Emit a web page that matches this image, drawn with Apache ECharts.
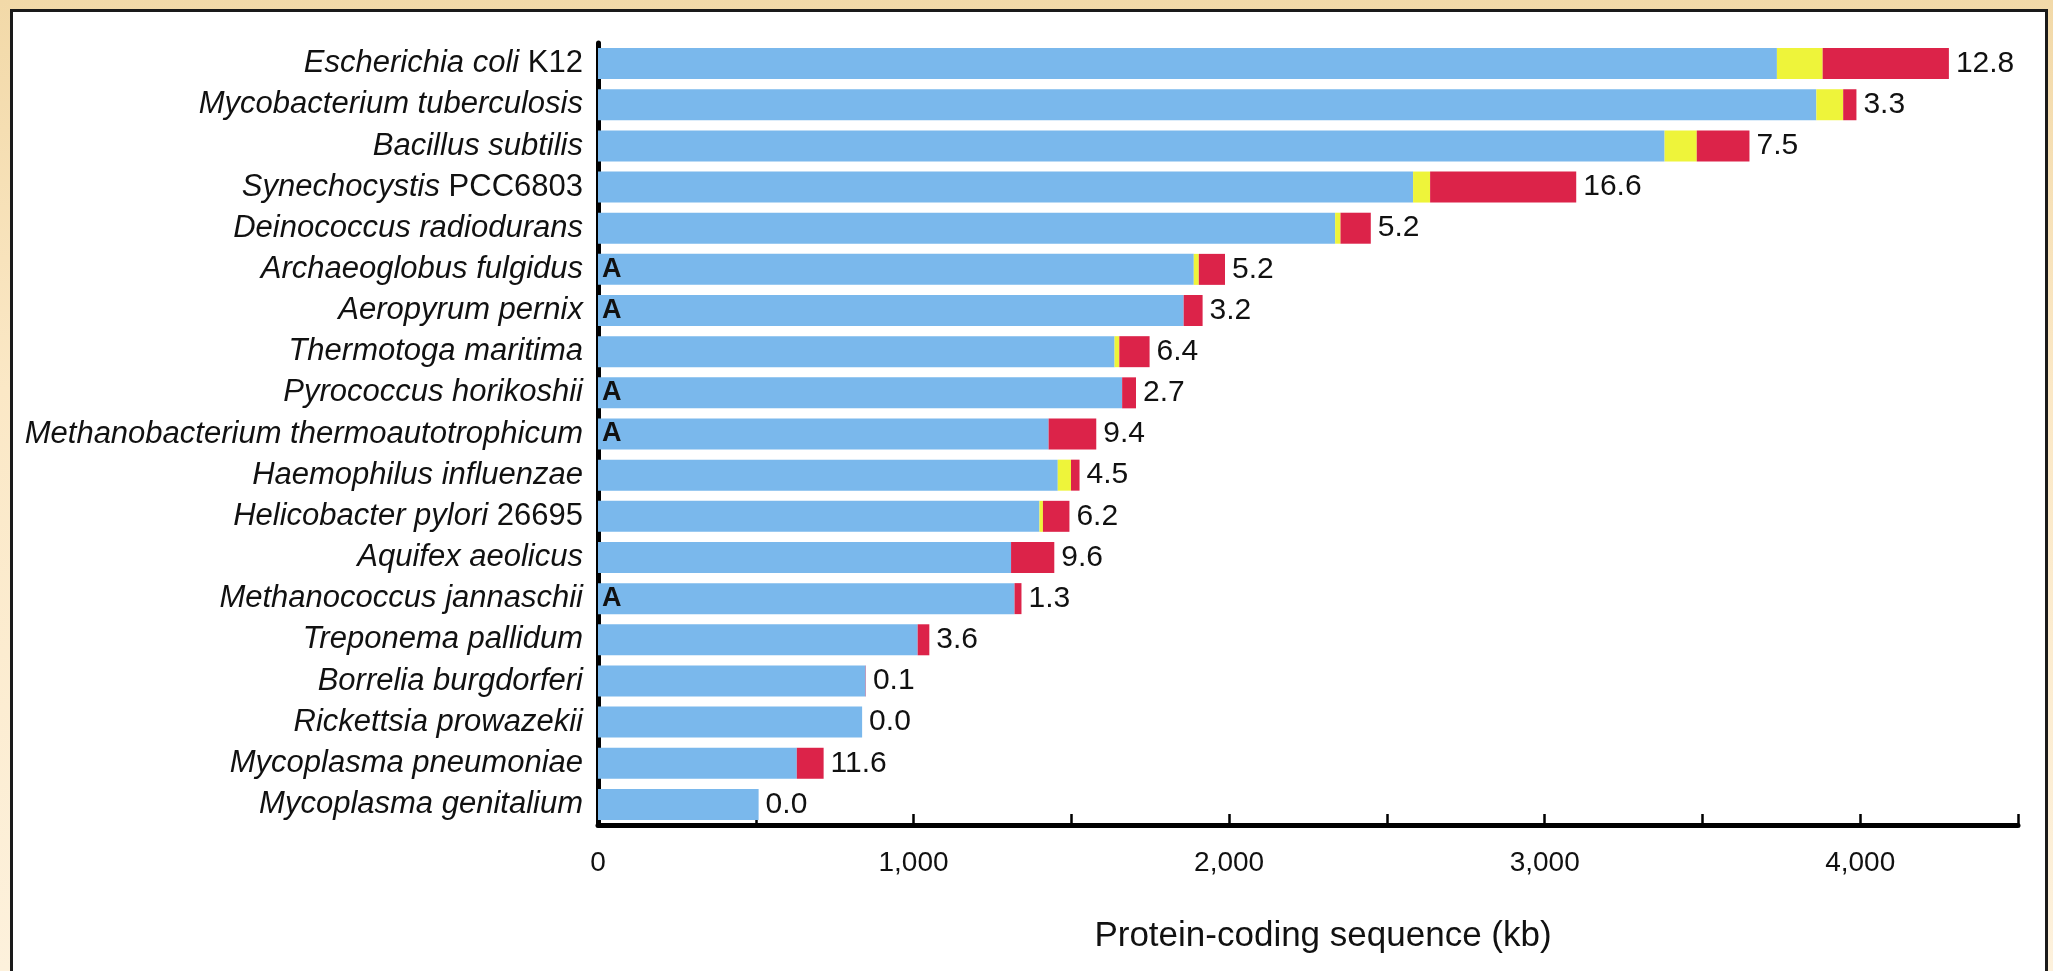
<!DOCTYPE html>
<html>
<head>
<meta charset="utf-8">
<script src="https://cdn.jsdelivr.net/npm/echarts@6/dist/echarts.min.js"></script>
<style>
html,body{margin:0;padding:0;width:2053px;height:971px;overflow:hidden;
  background:linear-gradient(180deg,#f2d9a8 0%,#fbe8c6 40%,#fdf1dc 100%);}
#chart{width:2053px;height:971px;}
</style>
</head>
<body>
<div id="chart"></div>
<script>
// ---- data (top to bottom) ----
const species = [
  "Escherichia coli", "Mycobacterium tuberculosis", "Bacillus subtilis",
  "Synechocystis", "Deinococcus radiodurans", "Archaeoglobus fulgidus",
  "Aeropyrum pernix", "Thermotoga maritima", "Pyrococcus horikoshii",
  "Methanobacterium thermoautotrophicum", "Haemophilus influenzae",
  "Helicobacter pylori", "Aquifex aeolicus", "Methanococcus jannaschii",
  "Treponema pallidum", "Borrelia burgdorferi", "Rickettsia prowazekii",
  "Mycoplasma pneumoniae", "Mycoplasma genitalium"
];
const strains = ["K12", "", "", "PCC6803", "", "", "", "", "", "", "", "26695", "", "", "", "", "", "", ""];
// segment lengths in kb
const nativeSeq = [3736, 3861, 3380, 2583, 2336, 1888, 1856, 1637, 1661, 1428, 1457, 1399, 1309, 1320, 1013, 848, 837, 630, 509];
const yellowSeq = [145, 85, 102, 54, 17, 16, 0, 15, 0, 0, 42, 11, 0, 0, 0, 0, 0, 0, 0];
const redSeq    = [400, 42, 167, 463, 96, 83, 60, 96, 44, 151, 27, 84, 137, 22, 37, 1, 0, 85, 0];
const percentLabels = ["12.8", "3.3", "7.5", "16.6", "5.2", "5.2", "3.2", "6.4", "2.7", "9.4", "4.5", "6.2", "9.6", "1.3", "3.6", "0.1", "0.0", "11.6", "0.0"];
const archaea = [0, 0, 0, 0, 0, 1, 1, 0, 1, 1, 0, 0, 0, 1, 0, 0, 0, 0, 0];
const xTicks = { min: 0, max: 4500, interval: 500, labelEvery: 1000 };
const xName = "Protein-coding sequence (kb)";

const FONT = "'Liberation Sans', Arial, Helvetica, sans-serif";
const chart = echarts.init(document.getElementById('chart'), null, {renderer: 'canvas'});

const option = {
  animation: false,
  backgroundColor: 'transparent',
  graphic: [{
    type: 'rect', left: 10, top: 9, z: -10, silent: true,
    shape: {width: 2035, height: 990},
    style: {fill: '#ffffff', stroke: '#1a1a1a', lineWidth: 3}
  }],
  grid: {left: 598, right: 35, top: 43, bottom: 146, containLabel: false},
  xAxis: {
    type: 'value',
    min: xTicks.min, max: xTicks.max, interval: xTicks.interval,
    name: xName, nameLocation: 'middle', nameGap: 94,
    nameTextStyle: {fontFamily: FONT, fontSize: 35, color: '#111', padding: [0, 0, 0, 30]},
    axisLine: {show: true, lineStyle: {color: '#000', width: 5}},
    axisTick: {show: true, inside: true, length: 11, lineStyle: {color: '#000', width: 2.5}},
    splitLine: {show: false},
    axisLabel: {
      fontFamily: FONT, fontSize: 28, color: '#111', margin: 24,
      formatter: v => (v % xTicks.labelEvery === 0 ? v.toLocaleString('en-US') : '')
    }
  },
  yAxis: {
    type: 'category', inverse: true, data: species,
    axisLine: {show: true, lineStyle: {color: '#000', width: 5}},
    axisTick: {show: false},
    axisLabel: {
      margin: 15,
      formatter: (v, i) => strains[i] ? `{i|${v}}{r|\u00a0${strains[i]}}` : `{i|${v}}`,
      rich: {
        i: {fontFamily: FONT, fontSize: 31, fontStyle: 'italic', color: '#111'},
        r: {fontFamily: FONT, fontSize: 31, fontStyle: 'normal', color: '#111'}
      }
    }
  },
  series: [
    {
      name: 'native', type: 'bar', stack: 'g', barWidth: 31,
      data: nativeSeq,
      itemStyle: {color: '#7ab8ec'},
      label: {
        show: true, position: 'insideLeft', distance: 4,
        formatter: p => archaea[p.dataIndex] ? 'A' : '',
        fontFamily: FONT, fontSize: 27, fontWeight: 'bold', color: '#111'
      }
    },
    {
      name: 'yellow', type: 'bar', stack: 'g', barWidth: 31,
      data: yellowSeq,
      itemStyle: {color: '#eef43a'}
    },
    {
      name: 'red', type: 'bar', stack: 'g', barWidth: 31,
      data: redSeq,
      itemStyle: {color: '#dc2349'},
      label: {
        show: true, position: 'right', distance: 7,
        formatter: p => percentLabels[p.dataIndex],
        fontFamily: FONT, fontSize: 30, color: '#111'
      }
    }
  ]
};
chart.setOption(option);
</script>
</body>
</html>
